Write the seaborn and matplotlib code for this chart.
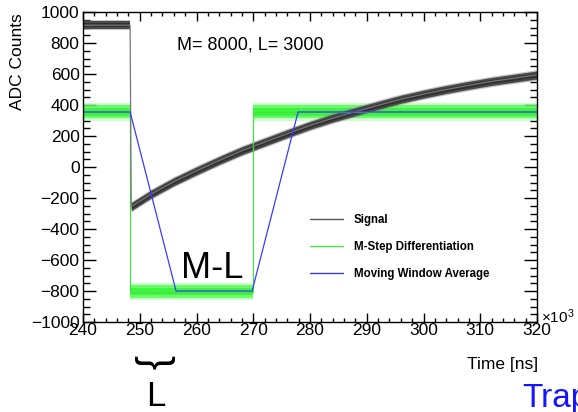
import numpy as np
import pandas as pd
import matplotlib
matplotlib.use("Agg")
import matplotlib.pyplot as plt
import seaborn as sns
from matplotlib.lines import Line2D

# ---------------- data ----------------
# Signal (ADC counts vs time in units of 10^3 ns)
sig_flat_t = [240.0, 248.3]
sig_flat_v = [915, 915]
sig_curve_t = [248.5, 252, 256, 260, 264, 268, 272, 276, 280, 284, 288,
               292, 296, 300, 304, 308, 312, 316, 320]
sig_curve_v = [-256, -175, -95, -25, 42, 105, 160, 215, 268, 315, 357,
               398, 437, 470, 500, 527, 552, 573, 594]
sig_noise = 26          # half width of noisy band

# M-step differentiation
msd_t = [240.0, 248.3, 248.3, 270.0, 270.0, 320.0]
msd_v = [355, 355, -805, -805, 355, 355]
msd_noise = 42

# Moving window average
mwa_t = [240.0, 248.3, 256.4, 269.8, 277.9, 320.0]
mwa_v = [355, 355, -800, -800, 355, 355]

x_ticks = [240, 250, 260, 270, 280, 290, 300, 310, 320]
y_ticks = [-1000, -800, -600, -400, -200, 0, 200, 400, 600, 800, 1000]

legend_labels = ["Signal", "M-Step Differentiation", "Moving Window Average"]

# ---------------- style ----------------
sns.set_theme(style="ticks")
plt.rcParams["font.family"] = ["Liberation Sans", "DejaVu Sans"]
plt.rcParams["mathtext.fontset"] = "custom"
plt.rcParams["mathtext.rm"] = "Liberation Sans"
plt.rcParams["mathtext.it"] = "Liberation Sans:italic"
for k in ["text.color", "axes.labelcolor", "xtick.color", "ytick.color",
          "xtick.labelcolor", "ytick.labelcolor"]:
    plt.rcParams[k] = "black"

W, H = 578, 412
fig = plt.figure(figsize=(W / 100, H / 100), dpi=100)
L, R, T, B = 83, 537, 12, 322
ax = fig.add_axes([L / W, 1 - B / H, (R - L) / W, (B - T) / H])

c_sig = "#303030"
c_grn = "#3ef53e"
c_blu = "#3a3aff"

# green band (noisy)
seg_g = [(msd_t[0], msd_t[1], msd_v[0]), (msd_t[2], msd_t[3], msd_v[2]),
         (msd_t[4], msd_t[5], msd_v[4])]
for t0, t1, v in seg_g:
    tt = np.array([t0, t1])
    ax.fill_between(tt, v - msd_noise - 14, v + msd_noise + 14, color="#66ff66",
                    alpha=0.35, lw=0)
    ax.fill_between(tt, v - msd_noise, v + msd_noise, color="#55f855", alpha=0.8, lw=0)
    ax.fill_between(tt, v - msd_noise * 0.55, v + msd_noise * 0.55, color=c_grn, lw=0)
ax.plot(msd_t, msd_v, color="#45e045", lw=0.9)

# signal band (noisy)
for tt, vv in [(sig_flat_t, sig_flat_v), (sig_curve_t, sig_curve_v)]:
    tt = np.array(tt); vv = np.array(vv)
    ax.fill_between(tt, vv - sig_noise - 8, vv + sig_noise + 8, color="#808080",
                    alpha=0.45, lw=0)
    ax.fill_between(tt, vv - sig_noise, vv + sig_noise, color="#4a4a4a", lw=0)
    ax.fill_between(tt, vv - sig_noise * 0.5, vv + sig_noise * 0.5, color=c_sig, lw=0)
sig_all_t = sig_flat_t + sig_curve_t
sig_all_v = sig_flat_v + sig_curve_v
ax.plot(sig_all_t, sig_all_v, color="#777777", lw=0.9)

# moving window average
df_b = pd.DataFrame({"t": mwa_t, "v": mwa_v})
sns.lineplot(data=df_b, x="t", y="v", ax=ax, color=c_blu, lw=0.9,
             sort=False, estimator=None, legend=False)

# ---------------- axes ----------------
ax.set_xlim(240, 320)
ax.set_ylim(-1000, 1000)
ax.set_xticks(x_ticks)
ax.set_yticks(y_ticks)
ax.set_xticks(np.arange(240, 321, 2), minor=True)
ax.set_yticks(np.arange(-1000, 1001, 50), minor=True)
ax.set_xlabel("")
ax.set_ylabel("")
ax.tick_params(which="both", direction="in", top=True, right=True,
               color="black", labelcolor="black", width=1.0, labelsize=12.5)
ax.xaxis.set_tick_params(which="major", length=6.5, pad=1)
ax.xaxis.set_tick_params(which="minor", length=3.2)
ax.yaxis.set_tick_params(which="major", length=9.5, pad=2.5)
ax.yaxis.set_tick_params(which="minor", length=5)
for s in ax.spines.values():
    s.set_color("black")
    s.set_linewidth(1.0)

handles = [Line2D([], [], color="#555555", lw=1.0),
           Line2D([], [], color="#44ee44", lw=1.0),
           Line2D([], [], color=c_blu, lw=1.0)]
leg = fig.legend(handles, legend_labels, loc="upper left",
                 bbox_to_anchor=(310 / W, 1 - 214 / H), frameon=False,
                 prop={"weight": "bold", "size": 8.3}, handlelength=2.9,
                 handletextpad=0.9, labelspacing=1.3, borderpad=0,
                 borderaxespad=0)

# ---------------- texts ----------------
fig.text(18 / W, 1 - 13 / H, "ADC Counts", rotation=90, ha="center", va="top",
         fontsize=12.5)
fig.text(538 / W, 1 - 365 / H, "Time [ns]", ha="right", va="center", fontsize=12.5)
fig.text(541 / W, 1 - 323 / H, r"$\times10^{3}$", ha="left", va="baseline",
         fontsize=11)
fig.text(177 / W, 1 - 45 / H, "M= 8000, L= 3000", ha="left", va="center",
         fontsize=13)
fig.text(181 / W, 1 - 278 / H, "M-L", ha="left", va="baseline", fontsize=26)
fig.text(153 / W, 1 - 362 / H, "}", rotation=-90, ha="center", va="center",
         fontsize=31)
fig.text(146 / W, 1 - 406 / H, "L", ha="left", va="baseline", fontsize=25)
fig.text(522 / W, 1 - 407 / H, "Trap", ha="left", va="baseline", fontsize=24,
         color="#1414ff")

fig.savefig("out.png", dpi=100)
